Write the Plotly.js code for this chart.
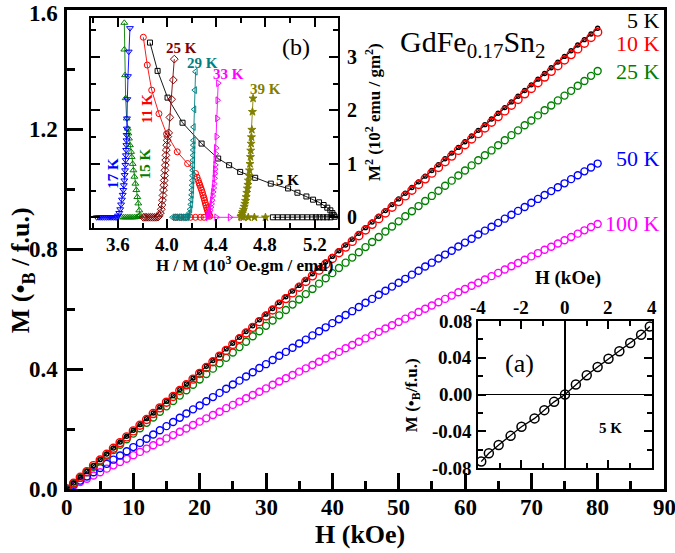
<!DOCTYPE html>
<html><head><meta charset="utf-8">
<script src="https://cdn.plot.ly/plotly-3.0.1.min.js"></script>
<style>html,body{margin:0;padding:0;background:#fff}</style>
</head><body><div id="chart" style="width:675px;height:553px"></div>
<script>
// ---- main panel: M vs H ----
const H = [0,1,2,3,4,5,6,7,8,9,10,11,12,13,14,15,16,17,18,19,20,21,22,23,24,25,26,27,28,29,30,31,32,33,34,35,36,37,38,39,40,41,42,43,44,45,46,47,48,49,50,51,52,53,54,55,56,57,58,59,60,61,62,63,64,65,66,67,68,69,70,71,72,73,74,75,76,77,78,79,80];
const M5K = [0,0.020,0.039,0.059,0.078,0.098,0.117,0.137,0.157,0.176,0.196,0.215,0.235,0.254,0.274,0.293,0.312,0.332,0.351,0.371,0.390,0.410,0.429,0.448,0.468,0.487,0.507,0.526,0.545,0.565,0.584,0.603,0.623,0.642,0.661,0.680,0.700,0.719,0.738,0.758,0.777,0.796,0.815,0.834,0.854,0.873,0.892,0.911,0.930,0.950,0.969,0.988,1.007,1.026,1.045,1.064,1.083,1.103,1.122,1.141,1.160,1.179,1.198,1.217,1.236,1.255,1.274,1.293,1.312,1.331,1.350,1.369,1.388,1.407,1.426,1.445,1.464,1.483,1.501,1.520,1.539];
const M10K = [0,0.019,0.039,0.058,0.078,0.097,0.116,0.136,0.155,0.174,0.194,0.213,0.232,0.252,0.271,0.290,0.309,0.329,0.348,0.367,0.386,0.406,0.425,0.444,0.463,0.483,0.502,0.521,0.540,0.559,0.578,0.598,0.617,0.636,0.655,0.674,0.693,0.712,0.731,0.751,0.770,0.789,0.808,0.827,0.846,0.865,0.884,0.903,0.922,0.941,0.960,0.979,0.998,1.017,1.036,1.055,1.074,1.093,1.112,1.131,1.150,1.169,1.187,1.206,1.225,1.244,1.263,1.282,1.301,1.320,1.338,1.357,1.376,1.395,1.414,1.433,1.451,1.470,1.489,1.508,1.526];
const M25K = [0,0.019,0.037,0.056,0.074,0.093,0.111,0.130,0.148,0.166,0.185,0.203,0.221,0.239,0.258,0.276,0.294,0.312,0.330,0.348,0.366,0.384,0.402,0.420,0.438,0.456,0.474,0.492,0.510,0.527,0.545,0.563,0.580,0.598,0.616,0.633,0.651,0.668,0.686,0.704,0.721,0.738,0.756,0.773,0.791,0.808,0.825,0.842,0.860,0.877,0.894,0.911,0.928,0.945,0.962,0.979,0.996,1.013,1.030,1.047,1.064,1.081,1.098,1.115,1.131,1.148,1.165,1.182,1.198,1.215,1.231,1.248,1.265,1.281,1.298,1.314,1.330,1.347,1.363,1.380,1.396];
const M50K = [0,0.014,0.028,0.042,0.056,0.070,0.084,0.098,0.112,0.126,0.140,0.154,0.168,0.182,0.196,0.210,0.224,0.238,0.252,0.266,0.279,0.293,0.307,0.321,0.335,0.349,0.362,0.376,0.390,0.404,0.417,0.431,0.445,0.458,0.472,0.486,0.499,0.513,0.527,0.540,0.554,0.567,0.581,0.594,0.608,0.622,0.635,0.649,0.662,0.676,0.689,0.702,0.716,0.729,0.743,0.756,0.770,0.783,0.796,0.810,0.823,0.836,0.850,0.863,0.876,0.889,0.903,0.916,0.929,0.942,0.956,0.969,0.982,0.995,1.008,1.021,1.035,1.048,1.061,1.074,1.087];
const M100K = [0,0.011,0.023,0.034,0.045,0.056,0.068,0.079,0.090,0.101,0.113,0.124,0.135,0.146,0.158,0.169,0.180,0.191,0.202,0.214,0.225,0.236,0.247,0.258,0.270,0.281,0.292,0.303,0.314,0.325,0.336,0.348,0.359,0.370,0.381,0.392,0.403,0.414,0.425,0.436,0.447,0.458,0.470,0.481,0.492,0.503,0.514,0.525,0.536,0.547,0.558,0.569,0.580,0.591,0.602,0.613,0.624,0.635,0.646,0.657,0.668,0.679,0.689,0.700,0.711,0.722,0.733,0.744,0.755,0.766,0.777,0.788,0.799,0.809,0.820,0.831,0.842,0.853,0.864,0.875,0.885];

// ---- inset (b): Arrott plot M^2 vs H/M ----
const b5K_x = [4.86,4.90,4.94,4.98,5.02,5.06,5.10,5.14,5.18,5.21,5.24,5.27,5.30,5.33,5.363,5.355,5.344,5.328,5.303,5.273,5.236,5.187,5.133,5.06,4.984,4.843,4.716,4.594,4.504,4.415,4.28,4.125,4.003,3.922,3.86];
const b5K_y = [0,0,0,0,0,0,0,0,0,0,0,0,0,0,0.01,0.04,0.08,0.13,0.18,0.23,0.28,0.33,0.39,0.46,0.54,0.63,0.74,0.85,0.975,1.10,1.38,1.77,2.24,2.74,3.27];
const b11K_x = [4.07,4.11,4.15,4.19,4.23,4.27,4.30,4.347,4.342,4.337,4.332,4.326,4.321,4.315,4.31,4.304,4.299,4.293,4.287,4.28,4.273,4.266,4.26,4.253,4.243,4.231,4.166,4.082,3.995,3.933,3.874,3.838,3.806];
const b11K_y = [0,0,0,0,0,0,0,0.02,0.04,0.07,0.10,0.14,0.18,0.225,0.27,0.32,0.365,0.41,0.46,0.51,0.555,0.60,0.64,0.69,0.75,0.82,1.006,1.225,1.56,1.94,2.38,2.85,3.37];
const b15K_x = [3.63,3.645,3.66,3.675,3.69,3.705,3.72,3.735,3.75,3.762,3.772,3.779,3.773,3.765,3.757,3.749,3.741,3.733,3.725,3.719,3.711,3.706,3.697,3.689,3.684,3.679,3.670,3.662,3.657,3.651,3.651];
const b15K_y = [0,0,0,0,0,0,0,0,0.005,0.01,0.02,0.04,0.13,0.26,0.38,0.51,0.63,0.76,0.88,1.0,1.13,1.225,1.35,1.475,1.57,1.66,1.85,2.23,2.66,3.14,3.64];
const b17K_x = [3.427,3.445,3.46,3.475,3.49,3.505,3.52,3.535,3.55,3.565,3.578,3.589,3.60,3.61,3.618,3.625,3.632,3.638,3.643,3.647,3.651,3.654,3.657,3.66,3.662,3.664,3.666,3.668,3.669,3.670,3.672,3.673,3.676,3.681,3.687,3.697];
const b17K_y = [0,0,0,0,0,0,0,0,0,0,0,0,0.03,0.08,0.15,0.24,0.33,0.42,0.51,0.60,0.69,0.79,0.88,0.98,1.07,1.16,1.26,1.35,1.44,1.54,1.66,1.85,2.21,2.64,3.10,3.54];
const b25K_x = [3.806,3.82,3.835,3.85,3.865,3.88,3.895,3.91,3.925,3.935,3.945,3.952,3.957,3.962,3.966,3.97,3.973,3.976,3.979,3.982,3.985,3.988,3.99,3.993,3.996,4.0,4.005,4.012,4.022,4.036,4.05,4.058];
const b25K_y = [0,0,0,0,0,0,0,0,0.005,0.03,0.08,0.15,0.23,0.32,0.41,0.51,0.60,0.69,0.78,0.88,0.975,1.07,1.16,1.26,1.35,1.44,1.51,1.58,1.87,2.21,2.57,2.96];
const b29K_x = [4.044,4.06,4.075,4.09,4.105,4.12,4.135,4.15,4.162,4.17,4.18,4.187,4.192,4.196,4.199,4.201,4.203,4.205,4.207,4.208,4.209,4.21,4.211,4.212,4.213,4.214,4.215,4.22,4.225,4.231];
const b29K_y = [0,0,0,0,0,0,0,0,0.005,0.03,0.08,0.15,0.24,0.33,0.42,0.51,0.60,0.69,0.78,0.88,0.98,1.07,1.16,1.26,1.35,1.44,1.69,2.02,2.38,2.725];
const b33K_x = [4.415,4.41,4.407,4.402,4.398,4.396,4.394,4.392,4.39,4.388,4.386,4.383,4.379,4.374,4.37,4.366,4.361,4.356,4.349,4.342,4.336,4.33,4.33,4.40,4.51,4.60];
const b33K_y = [2.51,2.19,1.85,1.51,1.30,1.19,1.08,0.98,0.90,0.82,0.73,0.63,0.55,0.475,0.40,0.32,0.25,0.19,0.13,0.09,0.05,0.02,0,0,0,0];
const b39K_x = [4.699,4.694,4.689,4.686,4.683,4.68,4.678,4.674,4.67,4.666,4.661,4.657,4.653,4.648,4.643,4.638,4.632,4.627,4.621,4.615,4.61,4.605,4.60,4.62,4.66,4.71,4.80];
const b39K_y = [2.225,1.975,1.64,1.5,1.38,1.25,1.13,1.0,0.88,0.78,0.69,0.61,0.54,0.46,0.38,0.31,0.256,0.2,0.144,0.1,0.07,0.03,0.01,0,0,0,0];

// ---- inset (a): low-field M vs H at 5 K ----
const a_H = [-3.85,-3.5,-3.05,-2.5,-2.0,-1.4,-0.95,-0.5,0,0.5,1.0,1.5,2.0,2.5,3.0,3.5,3.9];
const a_M = [-0.073,-0.064,-0.055,-0.045,-0.035,-0.026,-0.017,-0.008,0,0.011,0.021,0.030,0.039,0.047,0.056,0.065,0.074];

// tick labels
const main_xticks = [0,10,20,30,40,50,60,70,80,90];
const main_xticktext = ['0','10','20','30','40','50','60','70','80','90'];
const main_yticks = [0,0.4,0.8,1.2,1.6];
const main_yticktext = ['0.0','0.4','0.8','1.2','1.6'];
const b_xticks = [3.6,4.0,4.4,4.8,5.2];
const b_xticktext = ['3.6','4.0','4.4','4.8','5.2'];
const b_yticks = [0,1,2,3];
const b_yticktext = ['0','1','2','3'];
const a_xticks = [-4,-2,0,2,4];
const a_xticktext = ['-4','-2','0','2','4'];
const a_yticks = [-0.08,-0.04,0,0.04,0.08];
const a_yticktext = ['-0.08','-0.04','0.00','0.04','0.08'];

const SERIF = '"Liberation Serif", "Times New Roman", Times, serif';

function mainTrace(y, color, size, withLine){
  return {x:H, y:y, type:'scatter', mode: withLine ? 'lines+markers' : 'markers',
    line:{color:color, width:1.2},
    marker:{symbol:'circle-open', size:size, color:color, line:{width:1.4, color:color}},
    xaxis:'x', yaxis:'y', hoverinfo:'skip'};
}
function bTrace(xs, ys, color, sym, size){
  return {x:xs, y:ys, type:'scatter', mode:'lines+markers', xaxis:'x2', yaxis:'y2',
    line:{color:color, width:0.9},
    marker:{symbol:sym, size:size, color:color, line:{width:1, color:color}}, hoverinfo:'skip'};
}

const traces = [
  mainTrace(M100K, '#FF00FF', 7, false),
  mainTrace(M50K, '#0000FF', 7, false),
  mainTrace(M25K, '#008000', 7, false),
  mainTrace(M5K, '#000000', 4, true),
  mainTrace(M10K, '#FF0000', 8, false),
  bTrace(b5K_x, b5K_y, '#000000', 'square-open', 5),
  bTrace(b11K_x, b11K_y, '#FF0000', 'circle-open', 6),
  bTrace(b15K_x, b15K_y, '#008000', 'triangle-up-open', 6),
  bTrace(b17K_x, b17K_y, '#0000FF', 'triangle-down-open', 6),
  bTrace(b25K_x, b25K_y, '#800000', 'diamond-open', 6),
  bTrace(b29K_x, b29K_y, '#008080', 'triangle-left-open', 6),
  bTrace(b33K_x, b33K_y, '#FF00FF', 'triangle-right-open', 6),
  bTrace(b39K_x, b39K_y, '#808000', 'star', 6),
  {x:a_H, y:a_M, type:'scatter', mode:'lines+markers', xaxis:'x3', yaxis:'y3',
   line:{color:'#000', width:1.3},
   marker:{symbol:'circle-open', size:9, color:'#000', line:{width:1.5, color:'#000'}}, hoverinfo:'skip'}
];

const bold = (s, c) => ({family:SERIF, size:s, color:c || '#000', weight:'bold'});
const reg = (s, c) => ({family:SERIF, size:s, color:c || '#000'});

function ax(extra){
  return Object.assign({showgrid:false, zeroline:false, showline:true, linecolor:'#000',
    ticks:'inside', tickcolor:'#000', showticklabels:false}, extra);
}
function ann(xref, yref, x, y, text, font, angle){
  return {xref:xref, yref:yref, x:x, y:y, text:text, font:font, showarrow:false,
    xanchor:'center', yanchor:'middle', textangle: angle || 0};
}
// serif tick labels drawn as annotations at the axis tick positions
function xLabels(vals, texts, xref, ypaper, size){
  return vals.map((v, i) => ann(xref, 'paper', v, ypaper, '<b>' + texts[i] + '</b>', reg(size)));
}
function yLabels(vals, texts, yref, xpaper, anchor, size){
  return vals.map((v, i) => Object.assign(ann('paper', yref, xpaper, v, '<b>' + texts[i] + '</b>', reg(size)), {xanchor:anchor}));
}

const mainY = yLabels(main_yticks, main_yticktext, 'y', -0.012, 'right', 23);
mainY[mainY.length - 1].yshift = -3;

const tickAnns = [].concat(
  xLabels(main_xticks, main_xticktext, 'x', -0.039, 23),
  mainY,
  xLabels(b_xticks, b_xticktext, 'x2', 0.5094, 19),
  yLabels(b_yticks, b_yticktext, 'y2', 0.466, 'left', 20),
  xLabels(a_xticks, a_xticktext, 'x3', 0.378, 19),
  yLabels(a_yticks, a_yticktext, 'y3', 0.681, 'right', 19)
);

const layout = {
  width:675, height:553,
  margin:{l:67, r:11, t:10, b:64},
  paper_bgcolor:'#fff', plot_bgcolor:'#fff', showlegend:false,
  font:{family:SERIF, color:'#000'},
  xaxis: ax({domain:[0,1], anchor:'y', range:[0,90], tickvals:main_xticks, linewidth:3, mirror:true,
    ticklen:16, tickwidth:3,
    minor:{dtick:5, ticks:'inside', ticklen:8, tickwidth:3, tickcolor:'#000'}}),
  yaxis: ax({domain:[0,1], anchor:'x', range:[0,1.6], tickvals:main_yticks, linewidth:3, mirror:true,
    ticklen:16, tickwidth:3,
    minor:{dtick:0.2, ticks:'inside', ticklen:8, tickwidth:3, tickcolor:'#000'}}),
  xaxis2: ax({domain:[0.0402,0.4539], anchor:'y2', range:[3.38,5.39], tickvals:b_xticks,
    linewidth:2, mirror:'ticks', ticklen:9, tickwidth:2,
    minor:{dtick:0.2, tick0:3.6, ticks:'inside', ticklen:5, tickwidth:2, tickcolor:'#000'}}),
  yaxis2: ax({domain:[0.5449,0.9833], anchor:'x2', side:'right', range:[-0.2,3.73], tickvals:b_yticks,
    linewidth:2, mirror:'ticks', ticklen:9, tickwidth:2,
    minor:{dtick:0.5, ticks:'inside', ticklen:5, tickwidth:2, tickcolor:'#000'}}),
  xaxis3: ax({domain:[0.6884,0.9799], anchor:'y3', side:'top', range:[-4,4], tickvals:a_xticks,
    linewidth:2, mirror:'ticks', ticklen:8, tickwidth:2,
    zeroline:true, zerolinecolor:'#000', zerolinewidth:1.5,
    minor:{dtick:1, ticks:'inside', ticklen:5, tickwidth:2, tickcolor:'#000'}}),
  yaxis3: ax({domain:[0.0438,0.3507], anchor:'x3', range:[-0.08,0.08], tickvals:a_yticks,
    linewidth:2, mirror:'ticks', ticklen:8, tickwidth:2,
    zeroline:true, zerolinecolor:'#000', zerolinewidth:1.5,
    minor:{dtick:0.02, ticks:'inside', ticklen:5, tickwidth:2, tickcolor:'#000'}}),
  annotations: tickAnns.concat([
    ann('paper','paper', 0.4908, -0.094, 'H (kOe)', bold(26)),
    ann('paper','paper', -0.075, 0.457, 'M (•<sub>B</sub> / f.u.)', bold(26), -90),
    ann('paper','paper', 0.68, 0.93, 'GdFe<sub>0.17</sub>Sn<sub>2</sub>', reg(30)),
    Object.assign(ann('paper','paper', 0.996, 0.979, '5 K', reg(22,'#000')), {xanchor:'right'}),
    Object.assign(ann('paper','paper', 0.996, 0.931, '10 K', reg(22,'#FF0000')), {xanchor:'right'}),
    Object.assign(ann('paper','paper', 0.996, 0.871, '25 K', reg(22,'#008000')), {xanchor:'right'}),
    Object.assign(ann('paper','paper', 0.996, 0.689, '50 K', reg(22,'#0000FF')), {xanchor:'right'}),
    Object.assign(ann('paper','paper', 0.996, 0.555, '100 K', reg(22,'#FF00FF')), {xanchor:'right'}),
    // inset (b) texts
    ann('paper','paper', 0.298, 0.469, 'H / M (10<sup>3</sup> Oe.gm / emu)', bold(17)),
    ann('paper','paper', 0.5126, 0.787, 'M<sup>2</sup> (10<sup>2</sup> emu / gm<sup>2</sup>)', bold(17), -90),
    ann('x2','y2', 5.05, 3.19, '(b)', reg(24)),
    ann('x2','y2', 4.12, 3.17, '25 K', bold(15,'#800000')),
    ann('x2','y2', 4.29, 2.89, '29 K', bold(15,'#008080')),
    ann('x2','y2', 4.50, 2.68, '33 K', bold(15,'#FF00FF')),
    ann('x2','y2', 4.80, 2.40, '39 K', bold(15,'#808000')),
    ann('x2','y2', 4.98, 0.69, '5 K', bold(15)),
    ann('x2','y2', 3.838, 2.04, '11 K', bold(15,'#FF0000'), -90),
    ann('x2','y2', 3.562, 0.82, '17 K', bold(15,'#0000FF'), -90),
    ann('x2','y2', 3.819, 1.01, '15 K', bold(15,'#008000'), -90),
    // inset (a) texts
    ann('paper','paper', 0.839, 0.4405, 'H (kOe)', bold(19)),
    ann('paper','paper', 0.5796, 0.196, 'M (•<sub>B</sub>/f.u.)', bold(17), -90),
    ann('x3','y3', -2.07, 0.034, '(a)', reg(26)),
    ann('x3','y3', 2.07, -0.036, '5 K', bold(15))
  ])
};

Plotly.newPlot('chart', traces, layout, {staticPlot:true, displayModeBar:false});
</script></body></html>
